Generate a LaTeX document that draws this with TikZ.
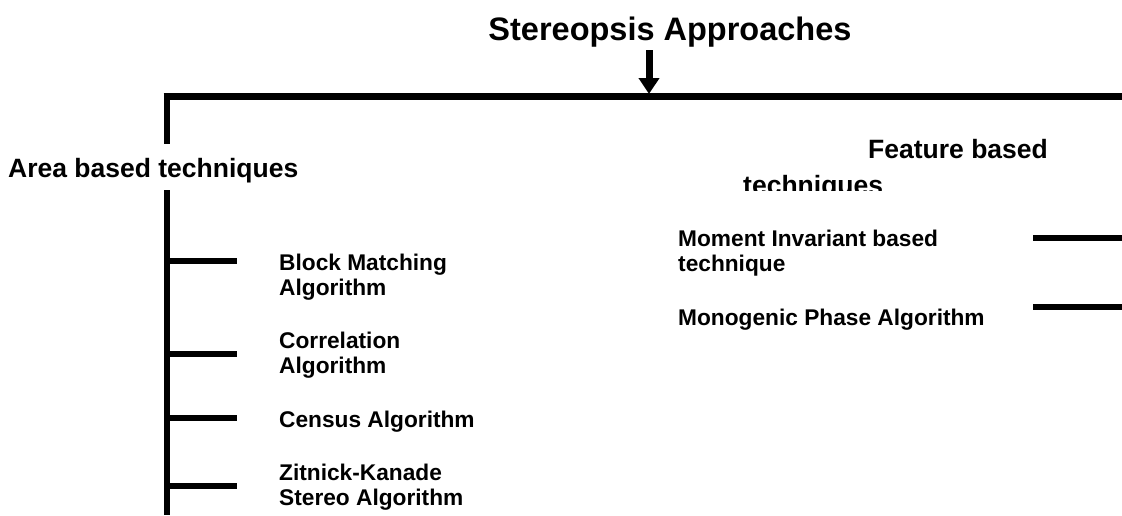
\documentclass[tikz,border=0pt]{standalone}
\usepackage{fontspec}
\setmainfont{Liberation Sans}
\usetikzlibrary{arrows.meta}
\begin{document}
\begin{tikzpicture}[x=1pt,y=-1pt,
  lbl/.style={inner sep=0pt,anchor=base west,align=left,font=\bfseries\fontsize{22.7}{25}\selectfont},
  head/.style={inner sep=0pt,anchor=base west,font=\bfseries\fontsize{26.5}{29}\selectfont},
  bar/.style={line width=6.5pt},
  vline/.style={line width=6pt},
  tick/.style={line width=6pt}]
\useasboundingbox (0,0) rectangle (1122,515);
% title
\node[inner sep=0pt,anchor=base,font=\bfseries\fontsize{32.5}{36}\selectfont] (title) at (670,40) {Stereopsis Approaches};
\coordinate (arrtop) at (649,50);
\coordinate (arrtip) at (649,94);
\draw[line width=7pt,-{Triangle[width=20pt,length=16pt]}] (arrtop) -- (arrtip);
% top bar
\coordinate (barL) at (163.5,96.5);
\coordinate (barR) at (1122,96.5);
\draw[bar] (barL) -- (barR);
% left vertical
\coordinate (vA) at (166.5,94);
\coordinate (vB) at (166.5,144);
\coordinate (vC) at (166.5,190);
\coordinate (vD) at (166.5,515);
\draw[vline] (vA) -- (vB);
\draw[vline] (vC) -- (vD);
\node[head] (area) at (8,177) {Area based techniques};
% left ticks and labels
\foreach \n/\y in {t1/261,t2/354,t3/418,t4/486}{
  \coordinate (\n a) at (164,\y);
  \coordinate (\n b) at (237,\y);
  \draw[tick] (\n a) -- (\n b);
}
\node[lbl] (bma) at (279,295) {Block Matching\\Algorithm};
\node[lbl] (cor) at (279,373) {Correlation\\Algorithm};
\node[lbl] (cen) at (279,427) {Census Algorithm};
\node[lbl] (zk) at (279,505) {Zitnick-Kanade\\Stereo Algorithm};
% right side
\node[head] (feat) at (868,158) {Feature based};
\begin{scope}
\clip (700,160) rectangle (950,190);
\node[head] (tech) at (743,194) {techniques};
\end{scope}
\node[lbl] (mom) at (678,271) {Moment Invariant based\\technique};
\node[lbl] (mono) at (678,325) {Monogenic Phase Algorithm};
\foreach \n/\y in {r1/238,r2/307}{
  \coordinate (\n a) at (1033,\y);
  \coordinate (\n b) at (1122,\y);
  \draw[tick] (\n a) -- (\n b);
}
\end{tikzpicture}
\end{document}
